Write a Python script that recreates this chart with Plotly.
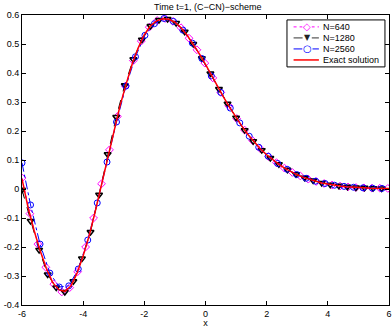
import plotly.graph_objects as go

# exact solution
x_exact = [-6.0, -5.8, -5.6, -5.4, -5.2, -5.0, -4.8, -4.6, -4.4, -4.2, -4.0, -3.8, -3.6, -3.4, -3.2,
           -3.0, -2.8, -2.6, -2.4, -2.2, -2.0, -1.8, -1.6, -1.4, -1.2, -1.0, -0.8, -0.6, -0.4, -0.2,
           0.0, 0.2, 0.4, 0.6, 0.8, 1.0, 1.2, 1.4, 1.6, 1.8, 2.0, 2.2, 2.4, 2.6, 2.8,
           3.0, 3.2, 3.4, 3.6, 3.8, 4.0, 4.2, 4.4, 4.6, 4.8, 5.0, 5.2, 5.4, 5.6, 5.8, 6.0]
y_exact = [0.035, -0.065, -0.145, -0.215, -0.275, -0.322, -0.347, -0.353, -0.335, -0.29, -0.23, -0.16, -0.075, 0.015, 0.105,
           0.195, 0.285, 0.36, 0.43, 0.487, 0.532, 0.563, 0.58, 0.587, 0.585, 0.575, 0.556, 0.53, 0.5, 0.466,
           0.43, 0.39, 0.352, 0.315, 0.28, 0.246, 0.215, 0.186, 0.16, 0.138, 0.118, 0.1, 0.085, 0.071, 0.059,
           0.049, 0.04, 0.033, 0.027, 0.021, 0.017, 0.013, 0.01, 0.008, 0.006, 0.005, 0.004, 0.003, 0.003, 0.002, 0.002]

# N=640
x_640 = [-6.0, -5.74, -5.48, -5.22, -4.96, -4.7, -4.44, -4.18, -3.92, -3.66, -3.4, -3.14, -2.88, -2.62, -2.36,
         -2.1, -1.84, -1.58, -1.32, -1.06, -0.8, -0.54, -0.28, -0.02, 0.24, 0.5, 0.76, 1.02, 1.28, 1.54,
         1.8, 2.06, 2.32, 2.58, 2.84, 3.1, 3.36, 3.62, 3.88, 4.14, 4.4, 4.66, 4.92, 5.18, 5.44, 5.7, 5.96]
y_640 = [0.038, -0.085, -0.19, -0.27, -0.328, -0.355, -0.34, -0.285, -0.2, -0.1, 0.018, 0.135, 0.25, 0.355, 0.443,
         0.51, 0.558, 0.581, 0.588, 0.578, 0.556, 0.52, 0.48, 0.434, 0.383, 0.333, 0.287, 0.243, 0.203, 0.167,
         0.138, 0.112, 0.091, 0.072, 0.057, 0.045, 0.034, 0.026, 0.019, 0.014, 0.01, 0.007, 0.005, 0.004, 0.003, 0.003, 0.002]

# N=1280
x_1280 = [-6.0, -5.72, -5.44, -5.16, -4.88, -4.6, -4.32, -4.04, -3.76, -3.48, -3.2, -2.92, -2.64, -2.36, -2.08,
          -1.8, -1.52, -1.24, -0.96, -0.68, -0.4, -0.12, 0.16, 0.44, 0.72, 1.0, 1.28, 1.56, 1.84, 2.12,
          2.4, 2.68, 2.96, 3.24, 3.52, 3.8, 4.08, 4.36, 4.64, 4.92, 5.2, 5.48, 5.76]
y_1280 = [-0.003, -0.11, -0.21, -0.295, -0.34, -0.355, -0.318, -0.24, -0.148, -0.02, 0.12, 0.248, 0.358, 0.447, 0.515,
          0.562, 0.583, 0.586, 0.572, 0.542, 0.5, 0.451, 0.398, 0.345, 0.294, 0.246, 0.203, 0.165, 0.134, 0.107,
          0.085, 0.066, 0.051, 0.039, 0.029, 0.021, 0.015, 0.011, 0.008, 0.005, 0.004, 0.003, 0.002]

# N=2560
x_2560 = [-6.0, -5.72, -5.41, -5.09, -4.78, -4.47, -4.16, -3.85, -3.54, -3.22, -2.91, -2.6, -2.29, -1.98, -1.67,
          -1.36, -1.05, -0.74, -0.43, -0.12, 0.19, 0.5, 0.81, 1.12, 1.43, 1.74, 2.05, 2.36, 2.67, 2.98,
          3.29, 3.6, 3.91, 4.22, 4.53, 4.84, 5.15, 5.46, 5.77]
y_2560 = [0.09, -0.055, -0.19, -0.29, -0.338, -0.334, -0.276, -0.176, -0.048, 0.093, 0.231, 0.355, 0.456, 0.53, 0.57,
          0.588, 0.578, 0.548, 0.503, 0.45, 0.39, 0.333, 0.279, 0.228, 0.182, 0.144, 0.113, 0.088, 0.068, 0.05,
          0.037, 0.027, 0.019, 0.013, 0.009, 0.006, 0.004, 0.003, 0.002]

y_ticks = [-0.4, -0.3, -0.2, -0.1, 0, 0.1, 0.2, 0.3, 0.4, 0.5, 0.6]
y_labels = ['-0.4', '-0.3', '-0.2', '-0.1', '0', '0.1', '0.2', '0.3', '0.4', '0.5', '0.6']
x_ticks = [-6, -4, -2, 0, 2, 4, 6]
x_labels = ['-6', '-4', '-2', '0', '2', '4', '6']

series_names = ['N=640', 'N=1280', 'N=2560', 'Exact solution']

FONT = 'Liberation Sans'

fig = go.Figure()

fig.add_trace(go.Scatter(
    x=x_640, y=y_640, mode='lines+markers', name=series_names[0],
    line=dict(color='#ff00ff', width=1, dash='dot'),
    marker=dict(symbol='diamond-open', size=6, color='#ff00ff', line=dict(width=1))
))
fig.add_trace(go.Scatter(
    x=x_1280, y=y_1280, mode='lines+markers', name=series_names[1],
    line=dict(color='black', width=1, dash='dash'),
    marker=dict(symbol='triangle-down-open', size=6, color='black', line=dict(width=1.5))
))
fig.add_trace(go.Scatter(
    x=x_2560, y=y_2560, mode='lines+markers', name=series_names[2],
    line=dict(color='#0000ff', width=1, dash='dashdot'),
    marker=dict(symbol='circle-open', size=6, color='#0000ff', line=dict(width=1))
))
fig.add_trace(go.Scatter(
    x=x_exact, y=y_exact, mode='lines', name=series_names[3],
    line=dict(color='#ff0000', width=1.5)
))

# compact MATLAB-like legend (plotly's own legend rows are too tall here)
leg_box = dict(x0=0.722, x1=0.989, y0=0.821, y1=0.983)
leg_rows = [0.959, 0.921, 0.883, 0.845]
leg_line = [('#ff00ff', 'dot'), ('#333333', 'dash'), ('#0000ff', 'dashdot'), ('#ff0000', 'solid')]
leg_glyph = [('\u25c7', '#ff00ff', 10), ('\u25bc', '#222222', 8), ('\u25cb', '#0000ff', 10), (None, None, None)]

fig.add_shape(type='rect', xref='paper', yref='paper', fillcolor='white',
              line=dict(color='black', width=1), layer='above', **leg_box)
for row_y, name, (col, dash), (glyph, gcol, gsize) in zip(leg_rows, series_names, leg_line, leg_glyph):
    fig.add_shape(type='line', xref='paper', yref='paper', x0=0.74, x1=0.809, y0=row_y, y1=row_y,
                  line=dict(color=col, width=1.5 if dash == 'solid' else 1, dash=dash), layer='above')
    if glyph:
        fig.add_annotation(xref='paper', yref='paper', x=0.777, y=row_y, text=glyph, showarrow=False,
                           xanchor='center', yanchor='middle', bgcolor='white', borderpad=0,
                           font=dict(family='DejaVu Sans', size=gsize, color=gcol))
    fig.add_annotation(xref='paper', yref='paper', x=0.815, y=row_y, text=name, showarrow=False,
                       xanchor='left', yanchor='middle',
                       font=dict(family=FONT, size=9, color='black'))

axis_style = dict(showline=True, linecolor='black', linewidth=1, mirror='ticks',
                  ticks='inside', ticklen=4, tickcolor='black', showgrid=False, zeroline=False,
                  automargin=False,
                  tickfont=dict(family=FONT, size=9, color='black'))

fig.update_layout(
    width=392, height=328,
    margin=dict(l=22, r=3, t=15, b=23, autoexpand=False),
    paper_bgcolor='white', plot_bgcolor='white',
    title=dict(text='Time t=1, (C\u2212CN)\u2212scheme', x=0.53, xanchor='center',
               y=0.98, yanchor='middle', yref='container',
               font=dict(family=FONT, size=9, color='black')),
    xaxis=dict(range=[-6, 6], tickvals=x_ticks, ticktext=x_labels,
               title=dict(text='x', font=dict(family=FONT, size=9, color='black'), standoff=0),
               **axis_style),
    yaxis=dict(range=[-0.4, 0.6], tickvals=y_ticks, ticktext=y_labels, **axis_style),
    showlegend=False,
)

# page has an 8px body margin by default, drop it so the figure sits at 0,0
fig.write_html("out.html", config={'displayModeBar': False},
               post_script="document.body.style.margin='0';")
